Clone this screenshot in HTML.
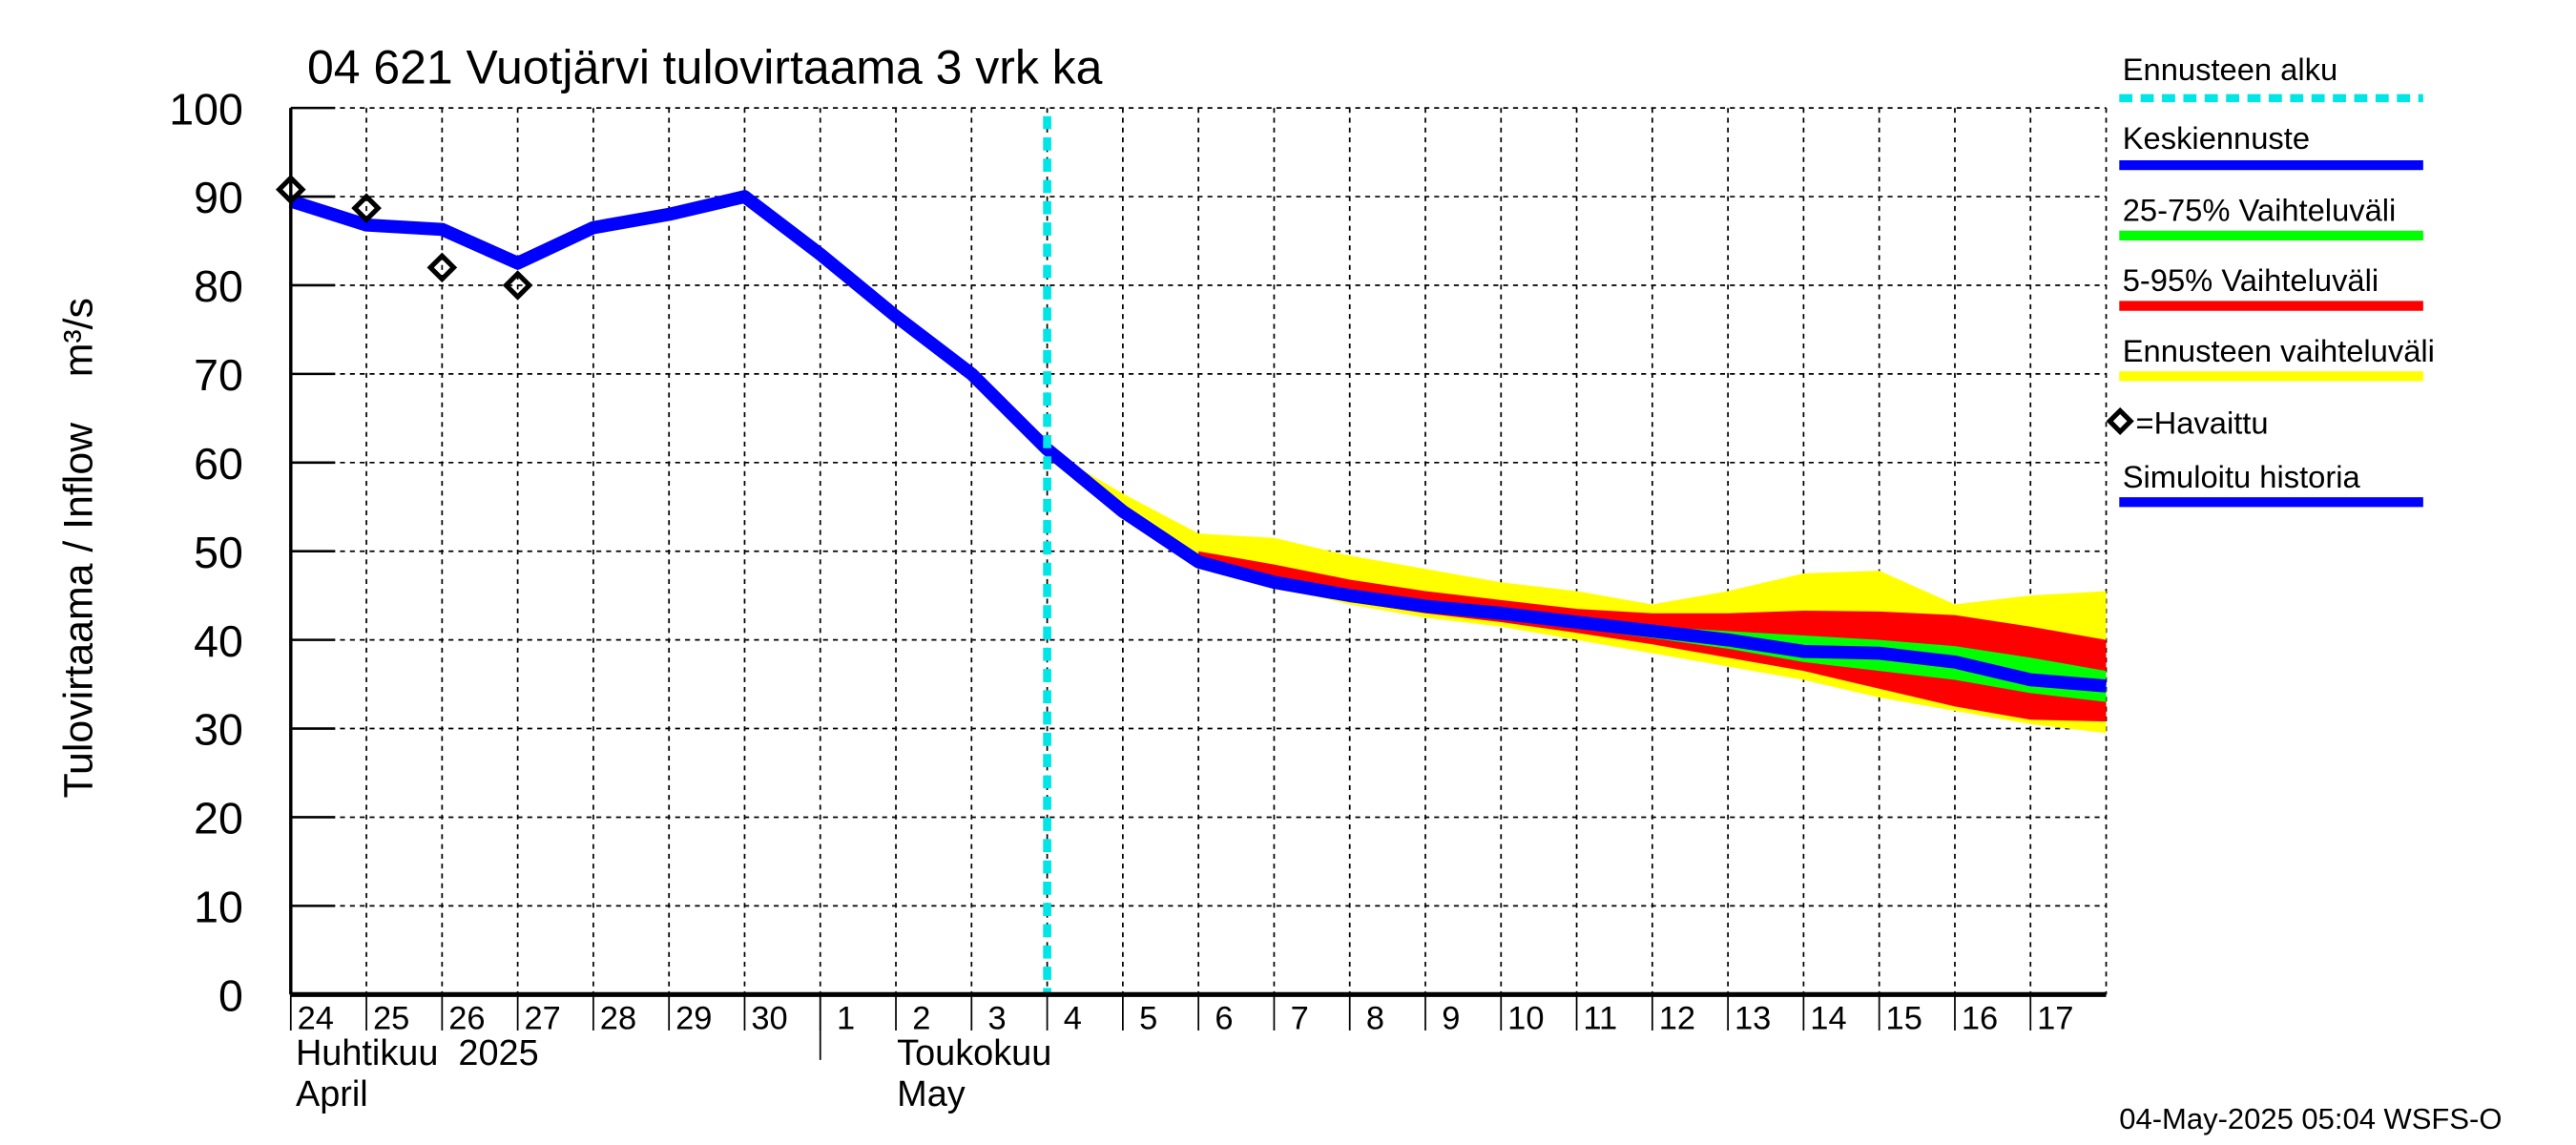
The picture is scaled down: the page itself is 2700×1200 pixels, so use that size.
<!DOCTYPE html>
<html><head><meta charset="utf-8"><style>body{margin:0;background:#fff}svg{display:block}text{font-family:"Liberation Sans",sans-serif}</style></head>
<body>
<svg id="chart" width="2700" height="1200" viewBox="0 0 1568 700" preserveAspectRatio="none" xmlns="http://www.w3.org/2000/svg">
<rect width="1568" height="700" fill="#fff"/>
<g id="grid"></g>
<g id="bands"></g>
<g id="lines"></g>
<g id="axes"></g>
<text x="187" y="51" font-size="29">04 621 Vuotjärvi tulovirtaama 3 vrk ka</text>
<text transform="translate(56,335) rotate(-90)" text-anchor="middle" font-size="25" xml:space="preserve">Tulovirtaama / Inflow    m³/s</text>
<text x="180" y="651" font-size="22" xml:space="preserve">Huhtikuu  2025</text>
<text x="180" y="676" font-size="22">April</text>
<text x="546" y="651" font-size="22">Toukokuu</text>
<text x="546" y="676" font-size="22">May</text>
<text x="1290" y="690" font-size="18">04-May-2025 05:04 WSFS-O</text>
<g font-size="19">
<text x="1292" y="49">Ennusteen alku</text>
<line x1="1290" y1="60" x2="1475" y2="60" stroke="#00e5e5" stroke-width="5" stroke-dasharray="8,5"/>
<text x="1292" y="91">Keskiennuste</text>
<line x1="1290" y1="101" x2="1475" y2="101" stroke="#0000ff" stroke-width="6"/>
<text x="1292" y="135">25-75% Vaihteluväli</text>
<line x1="1290" y1="144" x2="1475" y2="144" stroke="#00ff00" stroke-width="6"/>
<text x="1292" y="178">5-95% Vaihteluväli</text>
<line x1="1290" y1="187" x2="1475" y2="187" stroke="#ff0000" stroke-width="6"/>
<text x="1292" y="221">Ennusteen vaihteluväli</text>
<line x1="1290" y1="230" x2="1475" y2="230" stroke="#ffff00" stroke-width="6"/>
<rect x="1286" y="253" width="9" height="9" transform="rotate(45 1290.5 257.5)" fill="none" stroke="#000" stroke-width="3"/>
<text x="1300" y="265">=Havaittu</text>
<text x="1292" y="298">Simuloitu historia</text>
<line x1="1290" y1="307" x2="1475" y2="307" stroke="#0000ff" stroke-width="6"/>
</g>
</svg>
<script>
const days=[0,1,2,3,4,5,6,7,8,9,10,11,12,13,14,15,16,17,18,19,20,21,22,23,24];
const dayLabels=["24","25","26","27","28","29","30","1","2","3","4","5","6","7","8","9","10","11","12","13","14","15","16","17"];
const yTicks=[0,10,20,30,40,50,60,70,80,90,100];
const history=[89.5,86.8,86.3,82.5,86.5,88,90,83.5,76.5,70,61.5,54.5,48.8,46.5,45,43.8,43,42,41,40,38.7,38.5,37.5,35.5,34.8];
const obsDays=[0,1,2,3];
const obsValues=[90.8,88.7,82,80];
const fDays=[10,11,12,13,14,15,16,17,18,19,20,21,22,23,24];
const yelHi=[61.5,56.5,52,51.5,49.5,48,46.5,45.5,44,45.5,47.5,47.8,44,45,45.5];
const yelLo=[61,54,48,46,44,42.5,41.5,40,38.5,37,35.5,33.5,32,30.5,29.5];
const fDays2=[12,13,14,15,16,17,18,19,20,21,22,23,24];
const redHi=[50,48.5,46.8,45.5,44.5,43.5,43,43,43.3,43.2,42.8,41.5,40];
const redLo=[48.3,46,44.3,43,42,40.8,39.5,38,36.5,34.5,32.5,31,30.8];
const grnHi=[49.3,47,45.5,44.3,43.3,42.5,41.5,41,40.5,40,39.3,38,36.5];
const grnLo=[48.6,46.2,44.6,43.3,42.4,41.3,40.2,39,37.5,36.5,35.5,34,33];
const forecastStart=10;
const X0=177,X1=1282,Y0=608,Y1=66;
const sx=d=>X0+d*(X1-X0)/24, sy=v=>Y0-v*(Y0-Y1)/100;
const NS="http://www.w3.org/2000/svg";
function mk(p,t,a){const e=document.createElementNS(NS,t);for(const k in a)e.setAttribute(k,a[k]);p.appendChild(e);return e;}
const grid=document.getElementById('grid'),bands=document.getElementById('bands'),lines=document.getElementById('lines'),axes=document.getElementById('axes');
yTicks.forEach(v=>{if(v>0){const l=mk(grid,'line',{x1:X0,x2:X1,y1:sy(v),y2:sy(v),stroke:'#000','stroke-width':1,'stroke-dasharray':'3,3'});

}
const t=mk(axes,'text',{x:148,y:sy(v)+10,'text-anchor':'end','font-size':27});t.textContent=v;


mk(axes,'line',{x1:X0,x2:X0+27,y1:sy(v),y2:sy(v),stroke:'#000','stroke-width':1.5});});
for(let d=1;d<=24;d++){const l=mk(grid,'line',{x1:sx(d),x2:sx(d),y1:Y1,y2:Y0,stroke:'#000','stroke-width':1,'stroke-dasharray':'3,3'});

}
dayLabels.forEach((s,i)=>{const t=mk(axes,'text',{x:sx(i)+(s.length>1?4:10),y:629,'font-size':20});t.textContent=s;


mk(axes,'line',{x1:sx(i),x2:sx(i),y1:Y0,y2:Y0+22,stroke:'#000','stroke-width':1});});
mk(axes,'line',{x1:sx(7),x2:sx(7),y1:Y0,y2:648,stroke:'#000','stroke-width':1});
mk(axes,'line',{x1:X0,x2:X0,y1:Y1,y2:Y0,stroke:'#000','stroke-width':2});
mk(axes,'line',{x1:X0,x2:X1,y1:Y0,y2:Y0,stroke:'#000','stroke-width':3});
function band(ds,hi,lo,col,name){let pts=ds.map((d,i)=>sx(d)+','+sy(hi[i]));pts=pts.concat(ds.map((d,i)=>sx(d)+','+sy(lo[i])).reverse());
const p=mk(bands,'polygon',{points:pts.join(' '),fill:col});

}
band(fDays,yelHi,yelLo,'#ffff00','band-full-range');
band(fDays2,redHi,redLo,'#ff0000','band-5-95');
band(fDays2,grnHi,grnLo,'#00ff00','band-25-75');
const hl=mk(lines,'polyline',{points:days.map((d,i)=>sx(d)+','+sy(history[i])).join(' '),fill:'none',stroke:'#0000ff','stroke-width':8,'stroke-linejoin':'round'});


const fl=mk(lines,'line',{x1:sx(forecastStart),x2:sx(forecastStart),y1:Y1+5,y2:Y0,stroke:'#00e5e5','stroke-width':5,'stroke-dasharray':'8,5'});


obsDays.forEach((d,i)=>{const cx=sx(d),cy=sy(obsValues[i]);const r=mk(lines,'rect',{x:cx-5,y:cy-5,width:10,height:10,transform:`rotate(45 ${cx} ${cy})`,fill:'none',stroke:'#000','stroke-width':3});

});
</script>
</body></html>
